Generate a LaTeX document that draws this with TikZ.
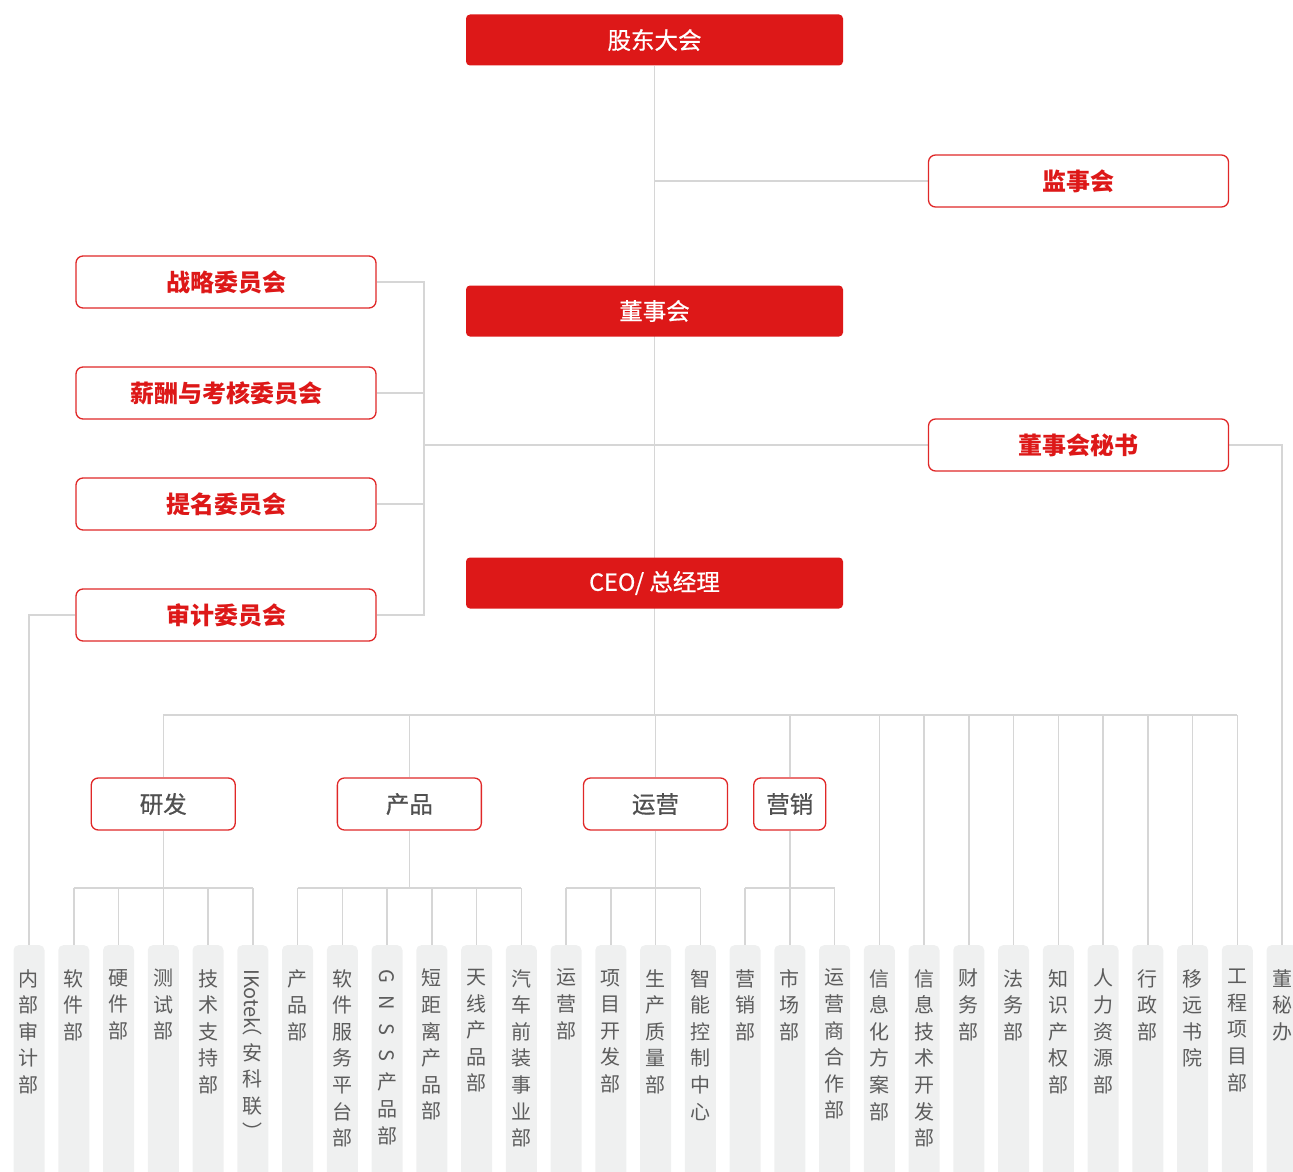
\documentclass[tikz,border=0pt]{standalone}
\usepackage{fontspec}
\usepackage{graphicx}
\setmainfont{Noto Sans CJK SC}
\newfontfamily\cjk{Noto Sans CJK SC}
\newfontfamily\cjkm[FakeBold=0.7]{Noto Sans CJK SC}
\definecolor{cred}{HTML}{DD1818}
\definecolor{bred}{HTML}{E02828}
\definecolor{lgray}{HTML}{D6D6D6}
\definecolor{colfill}{HTML}{EFF0F0}
\definecolor{coltext}{HTML}{5C5C5C}
\definecolor{grptext}{HTML}{505050}
\newcommand\rotlat[1]{\rotatebox[origin=c]{-90}{#1}}
\pgfdeclarelayer{bg}
\pgfsetlayers{bg,main}
\tikzset{
  redbox/.style={fill=cred, rounded corners=4pt, minimum width=377pt, minimum height=51pt, inner sep=0pt, text=white, font=\cjkm\fontsize{23.5}{23.5}\selectfont},
  wbox/.style={draw=bred, line width=1.3pt, fill=white, rounded corners=7pt, minimum width=300pt, minimum height=52pt, inner sep=0pt, text=cred, font=\cjk\bfseries\fontsize{24}{24}\selectfont},
  grpbox/.style={draw=bred, line width=1.3pt, fill=white, rounded corners=7pt, minimum width=144pt, minimum height=52pt, inner sep=0pt, text=grptext, font=\cjkm\fontsize{23.5}{23.5}\selectfont},
  colbox/.style={fill=colfill, rounded corners=5pt, minimum width=31pt, minimum height=260pt, inner sep=0pt, anchor=north},
  coltxt/.style={anchor=north, align=center, inner sep=0pt, text=coltext, font=\cjk\fontsize{20}{26.6}\selectfont},
  conn/.style={draw=lgray, line width=1.5pt},
}
\begin{document}
\begin{tikzpicture}[x=1pt,y=-1pt]
\useasboundingbox (0,0) rectangle (1293,1172);
\clip (0,0) rectangle (1293,1172);
% top level
\node[redbox] (gd) at (654.5,40) {股东大会};
\node[wbox] (jsh) at (1078.5,181) {监事会};
\node[redbox] (dsh) at (654.5,311) {董事会};
\node[wbox] (ms) at (1078.5,445) {董事会秘书};
\node[redbox] (ceo) at (654.5,583) {CEO/ 总经理};
% committees
\node[wbox] (zl) at (226,282) {战略委员会};
\node[wbox] (xc) at (226,393) {薪酬与考核委员会};
\node[wbox] (tm) at (226,504) {提名委员会};
\node[wbox] (sj) at (226,615) {审计委员会};
% columns
\foreach \t [count=\i from 0] in {
  {内\\部\\审\\计\\部},
  {软\\件\\部},
  {硬\\件\\部},
  {测\\试\\部},
  {技\\术\\支\\持\\部},
  {\rotlat{IKotek}\\︵\\安\\科\\联\\︶},
  {产\\品\\部},
  {软\\件\\服\\务\\平\\台\\部},
  {\rotlat{G}\\\rotlat{N}\\\rotlat{S}\\\rotlat{S}\\产\\品\\部},
  {短\\距\\离\\产\\品\\部},
  {天\\线\\产\\品\\部},
  {汽\\车\\前\\装\\事\\业\\部},
  {运\\营\\部},
  {项\\目\\开\\发\\部},
  {生\\产\\质\\量\\部},
  {智\\能\\控\\制\\中\\心},
  {营\\销\\部},
  {市\\场\\部},
  {运\\营\\商\\合\\作\\部},
  {信\\息\\化\\方\\案\\部},
  {信\\息\\技\\术\\开\\发\\部},
  {财\\务\\部},
  {法\\务\\部},
  {知\\识\\产\\权\\部},
  {人\\力\\资\\源\\部},
  {行\\政\\部},
  {移\\远\\书\\院},
  {工\\程\\项\\目\\部},
  {董\\秘\\办}}
{
  \node[colbox] (c\i) at ({29+44.75*\i},945) {};
  \node[coltxt] (t\i) at ({29+44.75*\i},969) {\t};
}
% groups
\node[grpbox] (yf) at (c3.north |- 0,804) {研发};
\node[grpbox] (cp) at ({29+44.75*8.5},804) {产品};
\node[grpbox] (yy) at (c14.north |- 0,804) {运营};
\node[grpbox, minimum width=72pt] (yx) at (c17.north |- 0,804) {营销};
\coordinate (tb) at (0,715);
\coordinate (cb) at (0,888);
\coordinate (cj) at (424,445);
\begin{pgfonlayer}{bg}
\draw[conn] (gd.south) -- (gd.south |- tb);
\draw[conn] (jsh.west) -- (jsh.west -| gd.south);
\draw[conn] (zl.east) -| (cj);
\draw[conn] (xc.east) -| (cj);
\draw[conn] (tm.east) -| (cj);
\draw[conn] (sj.east) -| (cj);
\draw[conn] (cj) -- (ms.west);
\draw[conn] (ms.east) -| (c28.north);
\draw[conn] (sj.west) -| (c0.north);
\draw[conn] (yf.north |- tb) -- (c27.north |- tb);
\foreach \g in {yf,cp,yy,yx} {
  \draw[conn] (\g.north) -- (\g.north |- tb);
  \draw[conn] (\g.south) -- (\g.south |- cb);
}
\foreach \i in {19,...,27} \draw[conn] (c\i.north) -- (c\i.north |- tb);
\draw[conn] (c1.north |- cb) -- (c5.north |- cb);
\draw[conn] (c6.north |- cb) -- (c11.north |- cb);
\draw[conn] (c12.north |- cb) -- (c15.north |- cb);
\draw[conn] (c16.north |- cb) -- (c18.north |- cb);
\foreach \i in {1,...,18} \draw[conn] (c\i.north) -- (c\i.north |- cb);
\end{pgfonlayer}
\end{tikzpicture}
\end{document}
